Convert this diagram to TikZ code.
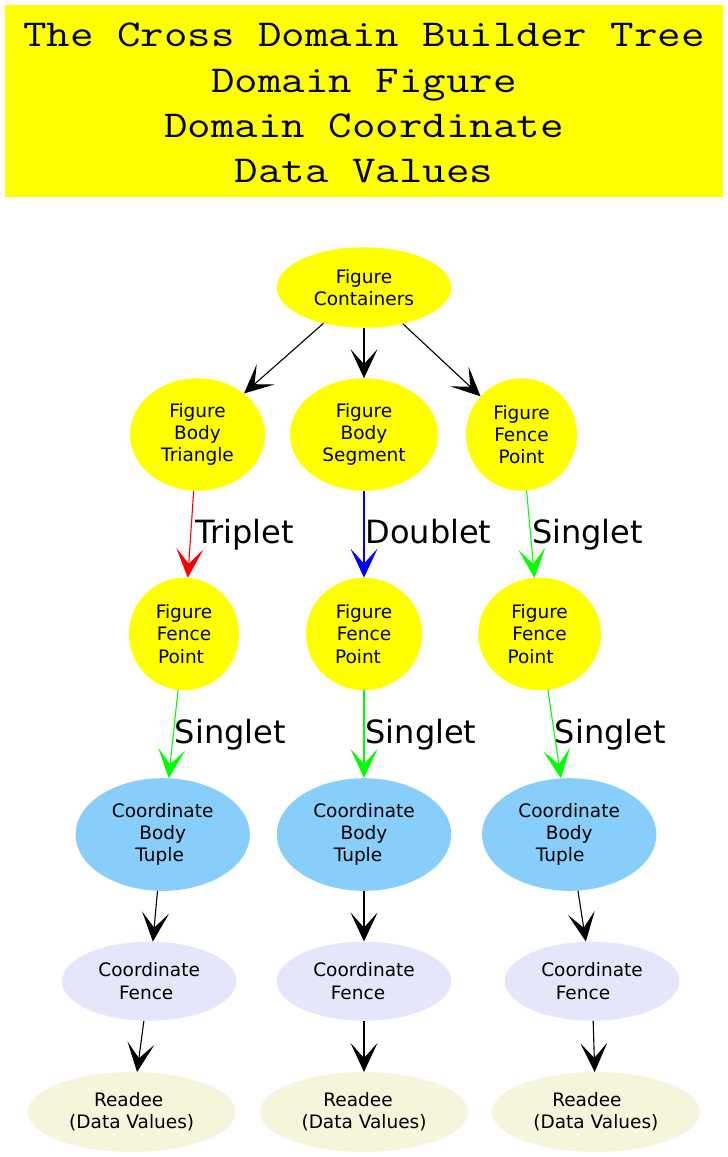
\documentclass[tikz,border=0pt]{standalone}
\usepackage{fontspec}
\setmainfont{DejaVu Sans}
\usetikzlibrary{shapes.geometric, arrows.meta}
\definecolor{figyellow}{HTML}{FFFF00}
\definecolor{coordblue}{HTML}{87CEFA}
\definecolor{fencelav}{HTML}{E6E6FA}
\definecolor{readbeige}{HTML}{F5F5DC}
\definecolor{edgered}{HTML}{FF0000}
\definecolor{edgeblue}{HTML}{0000FF}
\definecolor{edgegreen}{HTML}{00FF00}
\newcommand{\trailsp}[1]{\hbox to #1pt{}}
\newcommand{\titlefnt}{\ttfamily\fontsize{38}{45}\selectfont}
\newcommand{\titleline}[1]{\scalebox{1.2}[1]{\titlefnt #1}}
\begin{document}
\begin{tikzpicture}[x=1pt, y=-1pt,
  oval/.style={ellipse, draw=none, inner sep=0pt, align=center, font=\fontsize{18.5}{22.3}\selectfont},
  fig/.style={oval, fill=figyellow},
  cbt/.style={oval, fill=coordblue, minimum width=174.4pt, minimum height=112.6pt},
  cfe/.style={oval, fill=fencelav, minimum width=174.4pt, minimum height=79pt},
  rdd/.style={oval, fill=readbeige, minimum width=207.8pt, minimum height=79.7pt},
  ed/.style={line width=1.1pt, -{Stealth[length=29pt, width=27pt, inset=15pt]}},
  lbl/.style={anchor=base west, inner sep=0pt, yshift=-9.5pt, text=black, font=\fontsize{32}{38}\selectfont},
  tline/.style={anchor=base, inner sep=0pt},
]
\path[fill=white] (0,0) rectangle (728,1157);
\useasboundingbox (0,0) rectangle (728,1157);

% title
\node[fill=figyellow, draw=none, inner sep=0pt, minimum width=718pt, minimum height=192pt] (titlebox) at (364,101) {};
\node[tline] (t1) at (364,46.7) {\titleline{The Cross Domain Builder Tree}};
\node[tline] (t2) at (364,92) {\titleline{Domain Figure}};
\node[tline] (t3) at (364,137.3) {\titleline{Domain Coordinate}};
\node[tline] (t4) at (364,182.6) {\titleline{Data Values}};

% row 1
\node[fig, minimum width=174.4pt, minimum height=80.4pt] (cont) at (364,287.5) {Figure\\Containers};
% row 2
\node[fig, minimum width=135pt, minimum height=112.4pt] (tri) at (197.5,434.5) {Figure\\Body\\Triangle};
\node[fig, minimum width=148pt, minimum height=112.4pt] (seg) at (364,434.5) {Figure\\Body\\Segment};
\node[fig, minimum width=111pt, minimum height=112.4pt] (fpt) at (521.5,434.5) {Figure\\Fence\\Point};
% row 3
\node[fig, minimum width=110pt, minimum height=112.4pt] (ffpa) at (184,634) {Figure\\Fence\\Point\trailsp{6}};
\node[fig, minimum width=116pt, minimum height=112.4pt] (ffpb) at (364,634) {Figure\\Fence\\Point\trailsp{12}};
\node[fig, minimum width=122.7pt, minimum height=112.4pt] (ffpc) at (539.6,634) {Figure\\Fence\\Point\trailsp{18}};
% row 4
\node[cbt] (cbta) at (162.7,834.5) {Coordinate\\Body\\Tuple\trailsp{6}};
\node[cbt] (cbtb) at (364,834.5) {Coordinate\\Body\\Tuple\trailsp{12}};
\node[cbt] (cbtc) at (569.2,834.5) {Coordinate\\Body\\Tuple\trailsp{18}};
% row 5
\node[cfe] (cfa) at (149.2,981.2) {Coordinate\\Fence\trailsp{6}};
\node[cfe] (cfb) at (364,981.2) {Coordinate\\Fence\trailsp{12}};
\node[cfe] (cfc) at (592,981.2) {Coordinate\\Fence\trailsp{18}};
% row 6
\node[rdd] (rda) at (131.7,1112) {Readee\trailsp{6}\\(Data Values)};
\node[rdd] (rdb) at (364,1112) {Readee\trailsp{12}\\(Data Values)};
\node[rdd] (rdc) at (595.9,1112) {Readee\trailsp{18}\\(Data Values)};

% edges
\draw[ed] (cont) -- (tri);
\draw[ed] (cont) -- (seg);
\draw[ed] (cont) -- (fpt);

\draw[ed, draw=edgered] (tri) -- node[lbl, xshift=4pt] (lt) {Triplet} (ffpa);
\draw[ed, draw=edgeblue] (seg) -- node[lbl, xshift=1pt] (ld) {Doublet} (ffpb);
\draw[ed, draw=edgegreen] (fpt) -- node[lbl, xshift=1pt] (ls1) {Singlet} (ffpc);

\draw[ed, draw=edgegreen] (ffpa) -- node[lbl, xshift=1pt] (ls2) {Singlet} (cbta);
\draw[ed, draw=edgegreen] (ffpb) -- node[lbl, xshift=1pt] (ls3) {Singlet} (cbtb);
\draw[ed, draw=edgegreen] (ffpc) -- node[lbl] (ls4) {Singlet} (cbtc);

\draw[ed] (cbta) -- (cfa);
\draw[ed] (cbtb) -- (cfb);
\draw[ed] (cbtc) -- (cfc);

\draw[ed] (cfa) -- (rda);
\draw[ed] (cfb) -- (rdb);
\draw[ed] (cfc) -- (rdc);
\end{tikzpicture}
\end{document}
